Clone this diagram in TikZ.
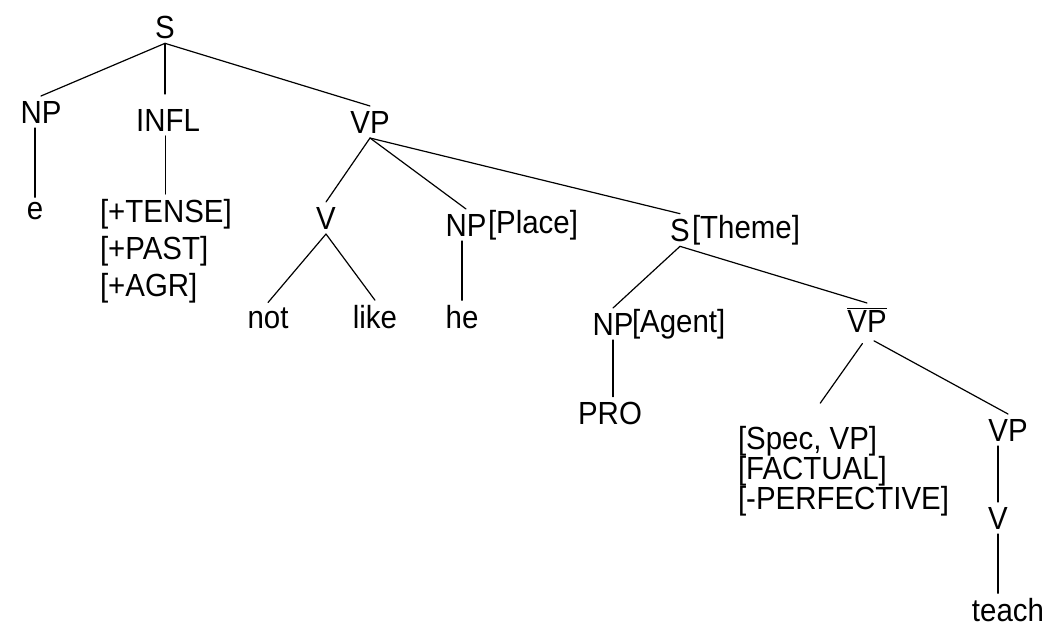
\documentclass[tikz,border=0pt]{standalone}
\usepackage{fontspec}
\setmainfont{Liberation Sans}[FakeStretch=0.92]
\begin{document}
\begin{tikzpicture}[x=1pt,y=-1pt,
  lab/.style={inner sep=0pt, outer sep=5pt, font=\fontsize{32}{38}\selectfont},
  feat/.style={lab, anchor=west},
  branch/.style={line width=1.2pt, line cap=round}]
\useasboundingbox (0,0) rectangle (1048,630);

% top level
\node[lab] (S)    at (165,27)  {S};
\node[lab] (NP)   at (41,112)  {NP};
\node[lab] (INFL) at (168,120) {INFL};
\node[lab] (VP)   at (370,122) {VP};

% subject and inflection
\node[lab] (e) at (35,211) {e};
\node[feat] (tense) at (95,214) {[+TENSE]};
\node[feat] (past)  at (95,251) {[+PAST]};
\node[feat] (agr)   at (95,288) {[+AGR]};

% verb phrase
\node[lab] (V)    at (326,218) {V};
\node[lab] (not)  at (268,318) {not};
\node[lab] (like) at (375,317) {like};
\node[lab] (NPpl) at (466,225) {NP};
\node[lab, anchor=west] (place) at (483,225) {[Place]};
\node[lab] (he)   at (462,317) {he};

% embedded clause
\node[lab] (STh)   at (680,230) {S};
\node[lab, anchor=west] (theme) at (687,230) {[Theme]};
\node[lab] (NPag)  at (613,324) {NP};
\node[lab, anchor=west] (agent) at (627,324) {[Agent]};
\node[lab] (PRO)   at (610,413) {PRO};
\node[lab] (VPbar) at (867,320) {$\overline{\hbox{VP}}$};
\node[feat] (spec) at (733,441) {[Spec, VP]};
\node[feat] (fact) at (733,471) {[FACTUAL]};
\node[feat] (perf) at (733,501) {[-PERFECTIVE]};
\node[lab] (VPlow) at (1008,430) {VP};
\node[lab] (Vlow)  at (998,518)  {V};
\node[lab, anchor=east] (teach) at (1049,610) {teach};

% branches
\draw[branch] (S.south) -- (NP.north);
\draw[branch, shorten >=10pt] (S.south) -- (S.south |- INFL.north);
\draw[branch] (S.south) -- (VP.north);
\draw[branch] (e.north |- NP.south) -- (e.north);
\draw[branch] (tense.north |- INFL.south) -- (tense.north);
\draw[branch] (VP.south) -- (V.north);
\draw[branch] (VP.south) -- (NPpl.north);
\draw[branch] (VP.south) -- (STh.north);
\draw[branch] (V.south) -- (not.north);
\draw[branch] (V.south) -- (like.north);
\draw[branch] (he.north |- NPpl.south) -- (he.north);
\draw[branch] (STh.south) -- (NPag.north);
\draw[branch] (STh.south) -- (VPbar.north);
\draw[branch] (NPag.south) -- (NPag.south |- PRO.north);
\draw[branch, shorten <=8pt, shorten >=22pt] (VPbar.south) -- (spec.north);
\draw[branch, shorten <=8pt] (VPbar.south) -- (VPlow.north);
\draw[branch] (Vlow.north |- VPlow.south) -- (Vlow.north);
\draw[branch] (Vlow.south) -- (Vlow.south |- teach.north);
\end{tikzpicture}
\end{document}
